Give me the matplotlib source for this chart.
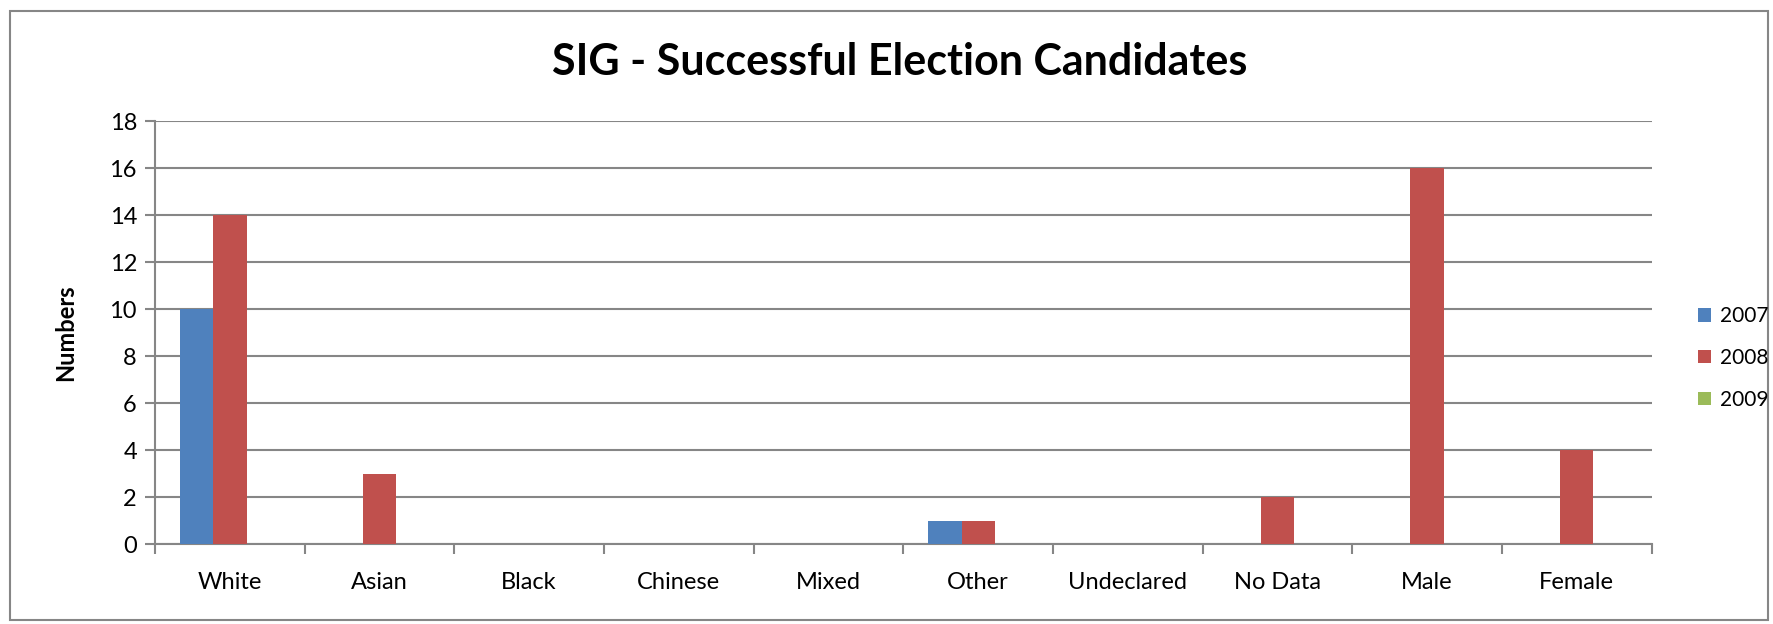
"""SIG - Successful Election Candidates: grouped bars by category and year (Excel-style)."""

import matplotlib

matplotlib.use("Agg")
import matplotlib.pyplot as plt
import numpy as np
from matplotlib.patches import Patch, Rectangle

categories = ["White", "Asian", "Black", "Chinese", "Mixed", "Other",
              "Undeclared", "No Data", "Male", "Female"]
years = ["2007", "2008", "2009"]
vals_2007 = [10, 0, 0, 0, 0, 1, 0, 0, 0, 0]
vals_2008 = [14, 3, 0, 0, 0, 1, 0, 2, 16, 4]
vals_2009 = [0, 0, 0, 0, 0, 0, 0, 0, 0, 0]
y_ticks = [0, 2, 4, 6, 8, 10, 12, 14, 16, 18]

colors = ["#4F81BD", "#C0504D", "#9BBB59"]
grid_c = "#868686"
font = ["Lato", "DejaVu Sans"]
plt.rcParams["font.family"] = font

fig = plt.figure(figsize=(17.74, 6.24), dpi=100)
ax = fig.add_axes([0.0874, 0.128, 0.8436, 0.678])

x = np.arange(len(categories)) + 0.5
w = 1 / 4.5  # Excel gap width 150%
for k, (vals, c) in enumerate(zip([vals_2007, vals_2008, vals_2009], colors)):
    v = np.array(vals, dtype=float)
    ax.bar(x + (k - 1) * w, np.where(v > 0, v, np.nan), width=w, color=c,
           linewidth=0, zorder=3)

ax.set_xlim(0, len(categories))
ax.set_ylim(0, 18)
ax.set_yticks(y_ticks)
ax.set_xticks(x)
ax.set_xticklabels(categories)
ax.set_xticks(np.arange(len(categories) + 1), minor=True)
ax.tick_params(axis="x", which="major", length=0, pad=20, labelsize=17)
ax.tick_params(axis="x", which="minor", length=7, width=1.5, color=grid_c, direction="out")
ax.tick_params(axis="y", length=7, width=1.5, color=grid_c, labelsize=17, pad=6)
ax.yaxis.grid(True, color=grid_c, lw=1.5, zorder=0)
ax.set_axisbelow(True)
for s in ("top", "right"):
    ax.spines[s].set_visible(False)
for s in ("left", "bottom"):
    ax.spines[s].set_color(grid_c)
    ax.spines[s].set_linewidth(1.5)

fig.text(0.037, 0.467, "Numbers", rotation=90, ha="center", va="center",
         fontsize=17, fontweight="bold")
fig.text(0.507, 0.90, "SIG - Successful Election Candidates", ha="center", va="center",
         fontsize=31, fontweight="bold")

handles = [Patch(facecolor=c, edgecolor="none") for c in colors]
fig.legend(handles, years, loc="center left", bbox_to_anchor=(0.9515, 0.426),
           frameon=False, fontsize=15, handlelength=0.6, handleheight=0.6,
           handletextpad=0.45, labelspacing=1.05, borderpad=0)

fig.add_artist(Rectangle((0.0057, 0.006), 0.991, 0.976, transform=fig.transFigure,
                         fill=False, edgecolor=grid_c, lw=1.5))

fig.savefig("out.png")
